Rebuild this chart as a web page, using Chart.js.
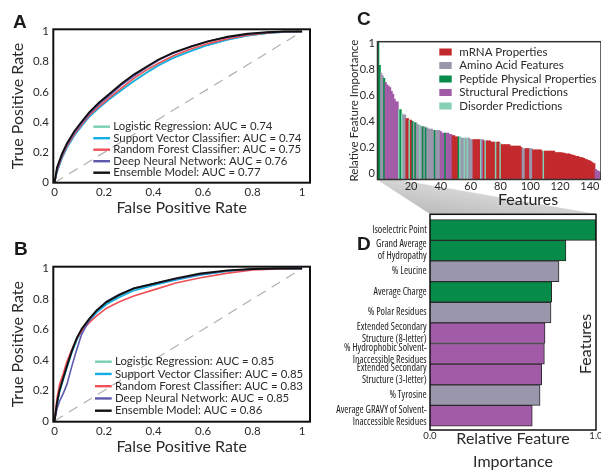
<!DOCTYPE html>
<html lang="en">
<head>
<meta charset="UTF-8">
<title>Model ROC curves and feature importance</title>
<script src="https://cdn.jsdelivr.net/npm/chart.js"></script>
<style>
  html, body { margin: 0; padding: 0; background: #fff; }
  body { width: 601px; height: 471px; position: relative; overflow: hidden; font-family: Lato, sans-serif; color: #222; }
  canvas { position: absolute; z-index: 1; }
  #shade { position: absolute; left: 0; top: 0; z-index: 0; }
  .letter { position: absolute; z-index: 2; font: bold 19px/19px "Liberation Sans", Arial, sans-serif; color: #1a1a1a; }
  .note { position: absolute; z-index: 2; font: 16px/16px Lato, sans-serif; color: #222; white-space: nowrap; }
  #dSide { transform: translate(-50%, -50%) rotate(-90deg); }
</style>
</head>
<body>
  <svg id="shade" width="601" height="471">
    <defs>
      <linearGradient id="shadeFill" x1="0" y1="1" x2="1" y2="0">
        <stop offset="0" stop-color="#b4b4b4"/>
        <stop offset="1" stop-color="#f2f2f2"/>
      </linearGradient>
    </defs>
    <polygon points="377.5,180 400,180 597,214 430,214" fill="url(#shadeFill)"/>
  </svg>

  <canvas id="rocA" width="320" height="220" style="left:0;top:0"></canvas>
  <canvas id="rocB" width="320" height="251" style="left:0;top:220px"></canvas>
  <canvas id="allFeatures" width="261" height="205" style="left:340px;top:0"></canvas>
  <canvas id="topFeatures" width="281" height="280" style="left:320px;top:205px"></canvas>

  <div class="letter" style="left:13px;top:12px">A</div>
  <div class="letter" style="left:14px;top:239px">B</div>
  <div class="letter" style="left:357px;top:9px">C</div>
  <div class="letter" style="left:357px;top:234px">D</div>
  <div class="note" style="left:498px;top:191px">Features</div>
  <div class="note" id="dSide" style="left:585px;top:344px">Features</div>

<script>
  // ---- ROC curves (panels A and B) ----
  const rocModels = ['Logistic Regression', 'Support Vector Classifier', 'Random Forest Classifier', 'Deep Neural Network', 'Ensemble Model'];
  const rocColors = ['#79d0ae', '#14aee6', '#ee5158', '#5e58ae', '#111111'];
  const aucA = [0.74, 0.74, 0.75, 0.76, 0.77];
  const aucB = [0.85, 0.85, 0.83, 0.85, 0.86];
  const chanceFpr = [0, 1];
  const chanceTpr = [0, 1];

  const fprA = [0, 0.01, 0.03, 0.05, 0.08, 0.11, 0.14, 0.18, 0.22, 0.27, 0.32, 0.37, 0.42, 0.48, 0.55, 0.62, 0.70, 0.78, 0.86, 0.93, 1.0];
  const tprA_lr  = [0, 0.075, 0.165, 0.235, 0.315, 0.38, 0.44, 0.50, 0.555, 0.615, 0.675, 0.73, 0.78, 0.83, 0.875, 0.912, 0.947, 0.973, 0.989, 0.997, 1.0];
  const tprA_svc = [0, 0.07, 0.16, 0.23, 0.31, 0.375, 0.435, 0.495, 0.55, 0.61, 0.67, 0.725, 0.775, 0.825, 0.87, 0.91, 0.945, 0.972, 0.988, 0.997, 1.0];
  const tprA_rf  = [0, 0.08, 0.17, 0.24, 0.32, 0.385, 0.445, 0.505, 0.56, 0.625, 0.69, 0.745, 0.79, 0.84, 0.885, 0.92, 0.952, 0.975, 0.99, 0.998, 1.0];
  const tprA_dnn = [0, 0.09, 0.18, 0.25, 0.33, 0.395, 0.455, 0.52, 0.575, 0.645, 0.705, 0.76, 0.81, 0.857, 0.90, 0.935, 0.963, 0.982, 0.994, 1.0, 1.0];
  const tprA_ens = [0, 0.10, 0.19, 0.26, 0.34, 0.405, 0.465, 0.53, 0.585, 0.655, 0.715, 0.765, 0.815, 0.86, 0.90, 0.935, 0.965, 0.985, 0.995, 1.0, 1.0];

  const fprB = [0, 0.01, 0.02, 0.035, 0.05, 0.07, 0.09, 0.11, 0.14, 0.17, 0.21, 0.26, 0.32, 0.40, 0.49, 0.59, 0.70, 0.80, 0.90, 1.0];
  const tprB_lr  = [0, 0.11, 0.195, 0.275, 0.355, 0.455, 0.535, 0.595, 0.66, 0.715, 0.77, 0.815, 0.86, 0.893, 0.928, 0.96, 0.984, 0.996, 1.0, 1.0];
  const tprB_svc = [0, 0.11, 0.19, 0.27, 0.35, 0.45, 0.53, 0.59, 0.655, 0.71, 0.765, 0.81, 0.855, 0.89, 0.925, 0.958, 0.982, 0.995, 1.0, 1.0];
  const tprB_rf  = [0, 0.15, 0.24, 0.31, 0.39, 0.47, 0.54, 0.59, 0.645, 0.69, 0.74, 0.78, 0.82, 0.86, 0.905, 0.94, 0.97, 0.99, 0.998, 1.0];
  const tprB_dnn = [0, 0.08, 0.13, 0.18, 0.24, 0.36, 0.47, 0.57, 0.66, 0.725, 0.785, 0.83, 0.87, 0.90, 0.932, 0.962, 0.985, 0.996, 1.0, 1.0];
  const tprB_ens = [0, 0.12, 0.20, 0.28, 0.36, 0.46, 0.545, 0.605, 0.67, 0.725, 0.78, 0.825, 0.87, 0.90, 0.935, 0.967, 0.988, 0.997, 1.0, 1.0];

  // ---- Feature importance (panels C and D) ----
  const groupNames = ['mRNA Properties', 'Amino Acid Features', 'Peptide Physical Properties', 'Structural Predictions', 'Disorder Predictions'];
  const groupCodes = ['M', 'A', 'P', 'S', 'D'];
  const groupColors = { M: '#c2292d', A: '#9a97ad', P: '#068c48', S: '#a25ca7', D: '#86d0b3' };

  // all features, sorted by importance (C)
  const cGroup = ('PPAAP' + 'SSSSSSSSS' + 'DPDAA' + 'MMDM' + 'PAPA' + 'ADAPAPAAAAAPAAA' + 'SSSPSSSS' +
    'MMMM' + 'P' + 'DAADAD' + 'AAA' + 'MMMMM' + 'D' + 'S' + 'M' + 'D' + 'MMMMMM' + 'D' + 'MM' + 'D' +
    'MMMMMMMMMMMMMM' + 'AA' + 'MMM' + 'AA' + 'MMMMMMM' + 'D' +
    'MMMMMMMMMMMMMMMMMMMMMMMMMMMMMMMMMM' + 'SSSS').split('');
  const cImportance = [
    1.01, 0.83, 0.77, 0.75, 0.73, 0.70, 0.68, 0.67, 0.66, 0.63,
    0.61, 0.57, 0.55, 0.55, 0.49, 0.49, 0.46, 0.45, 0.45, 0.42,
    0.42, 0.41, 0.41, 0.40, 0.39, 0.39, 0.38, 0.37, 0.37, 0.36,
    0.36, 0.36, 0.35, 0.35, 0.34, 0.34, 0.34, 0.33, 0.33, 0.33,
    0.33, 0.33, 0.32, 0.31, 0.31, 0.31, 0.31, 0.31, 0.30, 0.30,
    0.29, 0.29, 0.28, 0.28, 0.28, 0.28, 0.27, 0.27, 0.27, 0.27,
    0.27, 0.27, 0.26, 0.26, 0.26, 0.26, 0.26, 0.26, 0.26, 0.26,
    0.26, 0.25, 0.25, 0.25, 0.25, 0.25, 0.24, 0.24, 0.24, 0.24,
    0.24, 0.24, 0.23, 0.22, 0.22, 0.22, 0.22, 0.22, 0.22, 0.21,
    0.21, 0.21, 0.21, 0.21, 0.21, 0.21, 0.20, 0.19, 0.19, 0.19,
    0.19, 0.19, 0.19, 0.19, 0.18, 0.18, 0.18, 0.18, 0.18, 0.18,
    0.17, 0.17, 0.17, 0.17, 0.17, 0.17, 0.17, 0.17, 0.17, 0.16,
    0.16, 0.16, 0.16, 0.16, 0.155, 0.155, 0.15, 0.15, 0.15, 0.145,
    0.14, 0.14, 0.135, 0.13, 0.13, 0.125, 0.12, 0.12, 0.115, 0.11,
    0.105, 0.10, 0.095, 0.09, 0.08, 0.075, 0.03, 0.02, 0.015, 0.01
  ];
  const cRank = cImportance.map((_, i) => String(i - 2));
  const cTickLabels = [20, 40, 60, 80, 100, 120, 140];
  const cYMin = -0.048;

  // top ten features (D)
  const dFeatures = [
    'Isoelectric Point',
    ['Grand Average', 'of Hydropathy'],
    '% Leucine',
    'Average Charge',
    '% Polar Residues',
    ['Extended Secondary', 'Structure (8-letter)'],
    ['% Hydrophobic Solvent-', 'Inaccessible Residues'],
    ['Extended Secondary', 'Structure (3-letter)'],
    '% Tyrosine',
    ['Average GRAVY of Solvent-', 'Inaccessible Residues']
  ];
  const dGroup = ['P', 'P', 'A', 'P', 'A', 'S', 'S', 'S', 'A', 'S'];
  const dImportance = [1.0, 0.819, 0.777, 0.733, 0.729, 0.693, 0.689, 0.673, 0.663, 0.616];

  Chart.defaults.font.family = 'Lato, "Open Sans", sans-serif';
  Chart.defaults.color = '#2a2a2a';
  Chart.defaults.animation = false;
  Chart.defaults.plugins.legend.display = false;
  Chart.defaults.plugins.tooltip.enabled = false;

  const noGrid = { display: false, drawTicks: false, tickLength: 0 };

  // "0", "0.2" ... "1" like the original axes
  const shortNum = v => String(Number(v.toFixed(2)));

  // the D labels are set in a condensed face; pick the narrowest one that is installed
  function pickCondensed() {
    const probe = document.createElement('canvas').getContext('2d');
    const sample = 'Average GRAVY of Solvent-';
    const target = 91;   // width of that label in the original, px
    const tries = [
      { weight: 'condensed', family: '"Open Sans"' },
      { weight: 'condensed', family: '"Noto Sans"' },
      { weight: 'normal', family: '"Liberation Sans Narrow"' },
      { weight: 'normal', family: '"DejaVu Sans Condensed"' },
      { weight: 'condensed', family: '"DejaVu Sans"' },
      { weight: 'normal', family: 'Lato' }
    ];
    let best = tries[tries.length - 1], bestW = Infinity;
    tries.forEach(t => {
      probe.font = '1px serif';
      probe.font = t.weight + ' 9.5px ' + t.family;
      if (probe.font.indexOf('9.5px') < 0) return;
      const w = probe.measureText(sample).width;
      if (w < bestW) { bestW = w; best = t; }
    });
    const size = Math.max(8, Math.min(10, 9.5 * target / bestW));
    return { family: best.family, weight: best.weight, size };
  }
  const dFont = pickCondensed();

  // fix an axis box to a given size
  function fixBox(w, h) {
    return s => {
      if (w !== null) s.width = w;
      if (h !== null) s.height = h;
      s.paddingTop = 0; s.paddingBottom = 0; s.paddingLeft = 0; s.paddingRight = 0;
    };
  }

  // box round the plot area
  const framePlugin = {
    id: 'frame',
    afterDatasetsDraw(chart, args, opts) {
      const { ctx, chartArea: a } = chart;
      ctx.save();
      ctx.strokeStyle = opts.color || '#111';
      ctx.lineWidth = opts.width || 1.5;
      ctx.strokeRect(a.left, a.top, a.right - a.left, a.bottom - a.top);
      ctx.restore();
    }
  };

  // legend drawn inside the plot area
  const insideLegend = {
    id: 'insideLegend',
    afterDraw(chart, args, opts) {
      if (!opts.kind) return;
      const { ctx, chartArea: a } = chart;
      let items;
      if (opts.kind === 'line') {
        items = chart.data.datasets.filter(d => d.label).map(d => ({ text: d.label, color: d.borderColor }));
      } else {
        items = groupCodes.map((g, i) => ({ text: groupNames[i], color: groupColors[g] }));
      }
      ctx.save();
      ctx.font = opts.fontSize + 'px Lato, sans-serif';
      ctx.textBaseline = 'middle';
      items.forEach((it, i) => {
        const x = a.left + opts.left;
        const y = a.top + opts.top + i * opts.row;
        if (opts.kind === 'line') {
          ctx.strokeStyle = it.color;
          ctx.lineWidth = 2.4;
          ctx.beginPath();
          ctx.moveTo(x, y);
          ctx.lineTo(x + opts.sample, y);
          ctx.stroke();
        } else {
          ctx.fillStyle = it.color;
          ctx.fillRect(x, y - 3.5, opts.sample, 7);
        }
        ctx.fillStyle = '#2a2a2a';
        ctx.fillText(it.text, x + opts.sample + opts.gap, y);
      });
      ctx.restore();
    }
  };

  function rocDatasets(fpr, tprs, aucs) {
    const sets = [{
      label: '',
      data: chanceFpr.map((x, i) => ({ x, y: chanceTpr[i] })),
      borderColor: '#b0b0b0',
      borderDash: [10, 7],
      borderWidth: 1.2,
      order: 10
    }];
    tprs.forEach((tpr, k) => {
      sets.push({
        label: rocModels[k] + ': AUC = ' + aucs[k].toFixed(2),
        data: fpr.map((x, i) => ({ x, y: tpr[i] })),
        borderColor: rocColors[k],
        borderWidth: k === 4 ? 1.9 : 1.6,
        order: 5 - k
      });
    });
    return sets;
  }

  function makeRoc(id, fpr, tprs, aucs, cfg) {
    return new Chart(document.getElementById(id), {
      type: 'line',
      data: { datasets: rocDatasets(fpr, tprs, aucs) },
      options: {
        responsive: false,
        devicePixelRatio: 1,
        layout: { padding: { top: cfg.top, right: 10, left: 0, bottom: 0 } },
        elements: { point: { radius: 0 }, line: { tension: 0 } },
        scales: {
          x: {
            type: 'linear', min: -0.005, max: 1.032,
            grid: noGrid, border: { display: false },
            ticks: { stepSize: 0.2, includeBounds: false, maxRotation: 0, padding: 3.1, font: { size: 11.5 }, callback: shortNum },
            title: { display: true, text: 'False Positive Rate', font: { size: 16 }, padding: { top: 0, bottom: cfg.xTitlePad } },
            afterFit: fixBox(null, cfg.xHeight)
          },
          y: {
            type: 'linear', min: cfg.yMin, max: cfg.yMax,
            grid: noGrid, border: { display: false },
            ticks: { stepSize: 0.2, includeBounds: false, padding: 4.3, font: { size: 11.5 }, callback: shortNum },
            title: { display: true, text: 'True Positive Rate', font: { size: 16 }, padding: { top: 8.4, bottom: 0 } },
            afterFit: fixBox(53.3, null)
          }
        },
        plugins: {
          frame: { color: '#111', width: 2 },
          insideLegend: cfg.legend
        }
      },
      plugins: [framePlugin, insideLegend]
    });
  }

  makeRoc('rocA', fprA, [tprA_lr, tprA_svc, tprA_rf, tprA_dnn, tprA_ens], aucA, {
    top: 29.3, xHeight: 37.3, xTitlePad: 2.1, yMin: 0, yMax: 1.0146,
    legend: { kind: 'line', left: 40, top: 97.4, row: 11.5, sample: 16.7, gap: 3.3, fontSize: 11.4 }
  });
  makeRoc('rocB', fprB, [tprB_lr, tprB_svc, tprB_rf, tprB_dnn, tprB_ens], aucB, {
    top: 46.7, xHeight: 49.3, xTitlePad: 14.7, yMin: -0.0046, yMax: 1.012,
    legend: { kind: 'line', left: 41.7, top: 95, row: 12.25, sample: 16.7, gap: 3.3, fontSize: 11.4 }
  });

  new Chart(document.getElementById('allFeatures'), {
    type: 'bar',
    data: {
      labels: cRank,
      datasets: [{
        data: cImportance,
        backgroundColor: cGroup.map(g => groupColors[g]),
        borderWidth: 0,
        barPercentage: 1,
        categoryPercentage: 1,
        base: cYMin
      }]
    },
    options: {
      responsive: false,
      devicePixelRatio: 1,
      layout: { padding: { top: 41.7, right: 0, left: 0, bottom: 0 } },
      scales: {
        x: {
          grid: noGrid, border: { display: false },
          ticks: {
            autoSkip: false, maxRotation: 0, padding: 0.6, font: { size: 11 },
            callback: function (v) {
              const lab = this.getLabelForValue(v);
              return cTickLabels.includes(Number(lab)) ? lab : null;
            }
          },
          afterFit: fixBox(null, 25.5)
        },
        y: {
          min: cYMin, max: 1.012,
          grid: noGrid, border: { display: false },
          ticks: { stepSize: 0.2, includeBounds: false, padding: 2.5, font: { size: 11 }, callback: shortNum },
          title: { display: true, text: 'Relative Feature Importance', font: { size: 11.5 }, padding: { top: 7.1, bottom: 0 } },
          afterFit: fixBox(37.5, null)
        }
      },
      plugins: {
        frame: { color: '#333', width: 1.5 },
        insideLegend: { kind: 'box', left: 61.8, top: 10.3, row: 13.5, sample: 12.4, gap: 7.6, fontSize: 11.5 }
      }
    },
    plugins: [framePlugin, insideLegend]
  });

  new Chart(document.getElementById('topFeatures'), {
    type: 'bar',
    data: {
      datasets: [{
        data: dImportance.map((v, i) => ({ x: v, y: i })),
        backgroundColor: dGroup.map(g => groupColors[g]),
        borderColor: '#2a2a2a',
        borderWidth: 1,
        barPercentage: 1,
        categoryPercentage: 1
      }]
    },
    options: {
      responsive: false,
      devicePixelRatio: 1,
      indexAxis: 'y',
      layout: { padding: { top: 9.3, right: 5, left: 0, bottom: 0 } },
      scales: {
        x: {
          type: 'linear', min: 0, max: 1,
          grid: noGrid, border: { display: false },
          ticks: { stepSize: 1, maxRotation: 0, padding: 0.3, font: { size: 9.5 }, callback: v => v.toFixed(1) },
          title: { display: true, text: ['Relative Feature', 'Importance'], font: { size: 16, lineHeight: 1.4375 }, padding: { top: 0, bottom: 11.5 } },
          afterFit: fixBox(null, 55)
        },
        y: {
          type: 'linear', reverse: true, offset: false, min: -0.76, max: 9.69,
          grid: noGrid, border: { display: false },
          afterBuildTicks: s => { s.ticks = dFeatures.map((_, i) => ({ value: i })); },
          ticks: {
            autoSkip: false, padding: 3.3, color: '#222',
            font: { family: dFont.family, weight: dFont.weight, size: dFont.size, lineHeight: 12 / dFont.size },
            callback: v => dFeatures[v]
          },
          afterFit: fixBox(110, null)
        }
      },
      plugins: {
        frame: { color: '#111', width: 1.5 }
      }
    },
    plugins: [framePlugin]
  });
</script>
</body>
</html>
